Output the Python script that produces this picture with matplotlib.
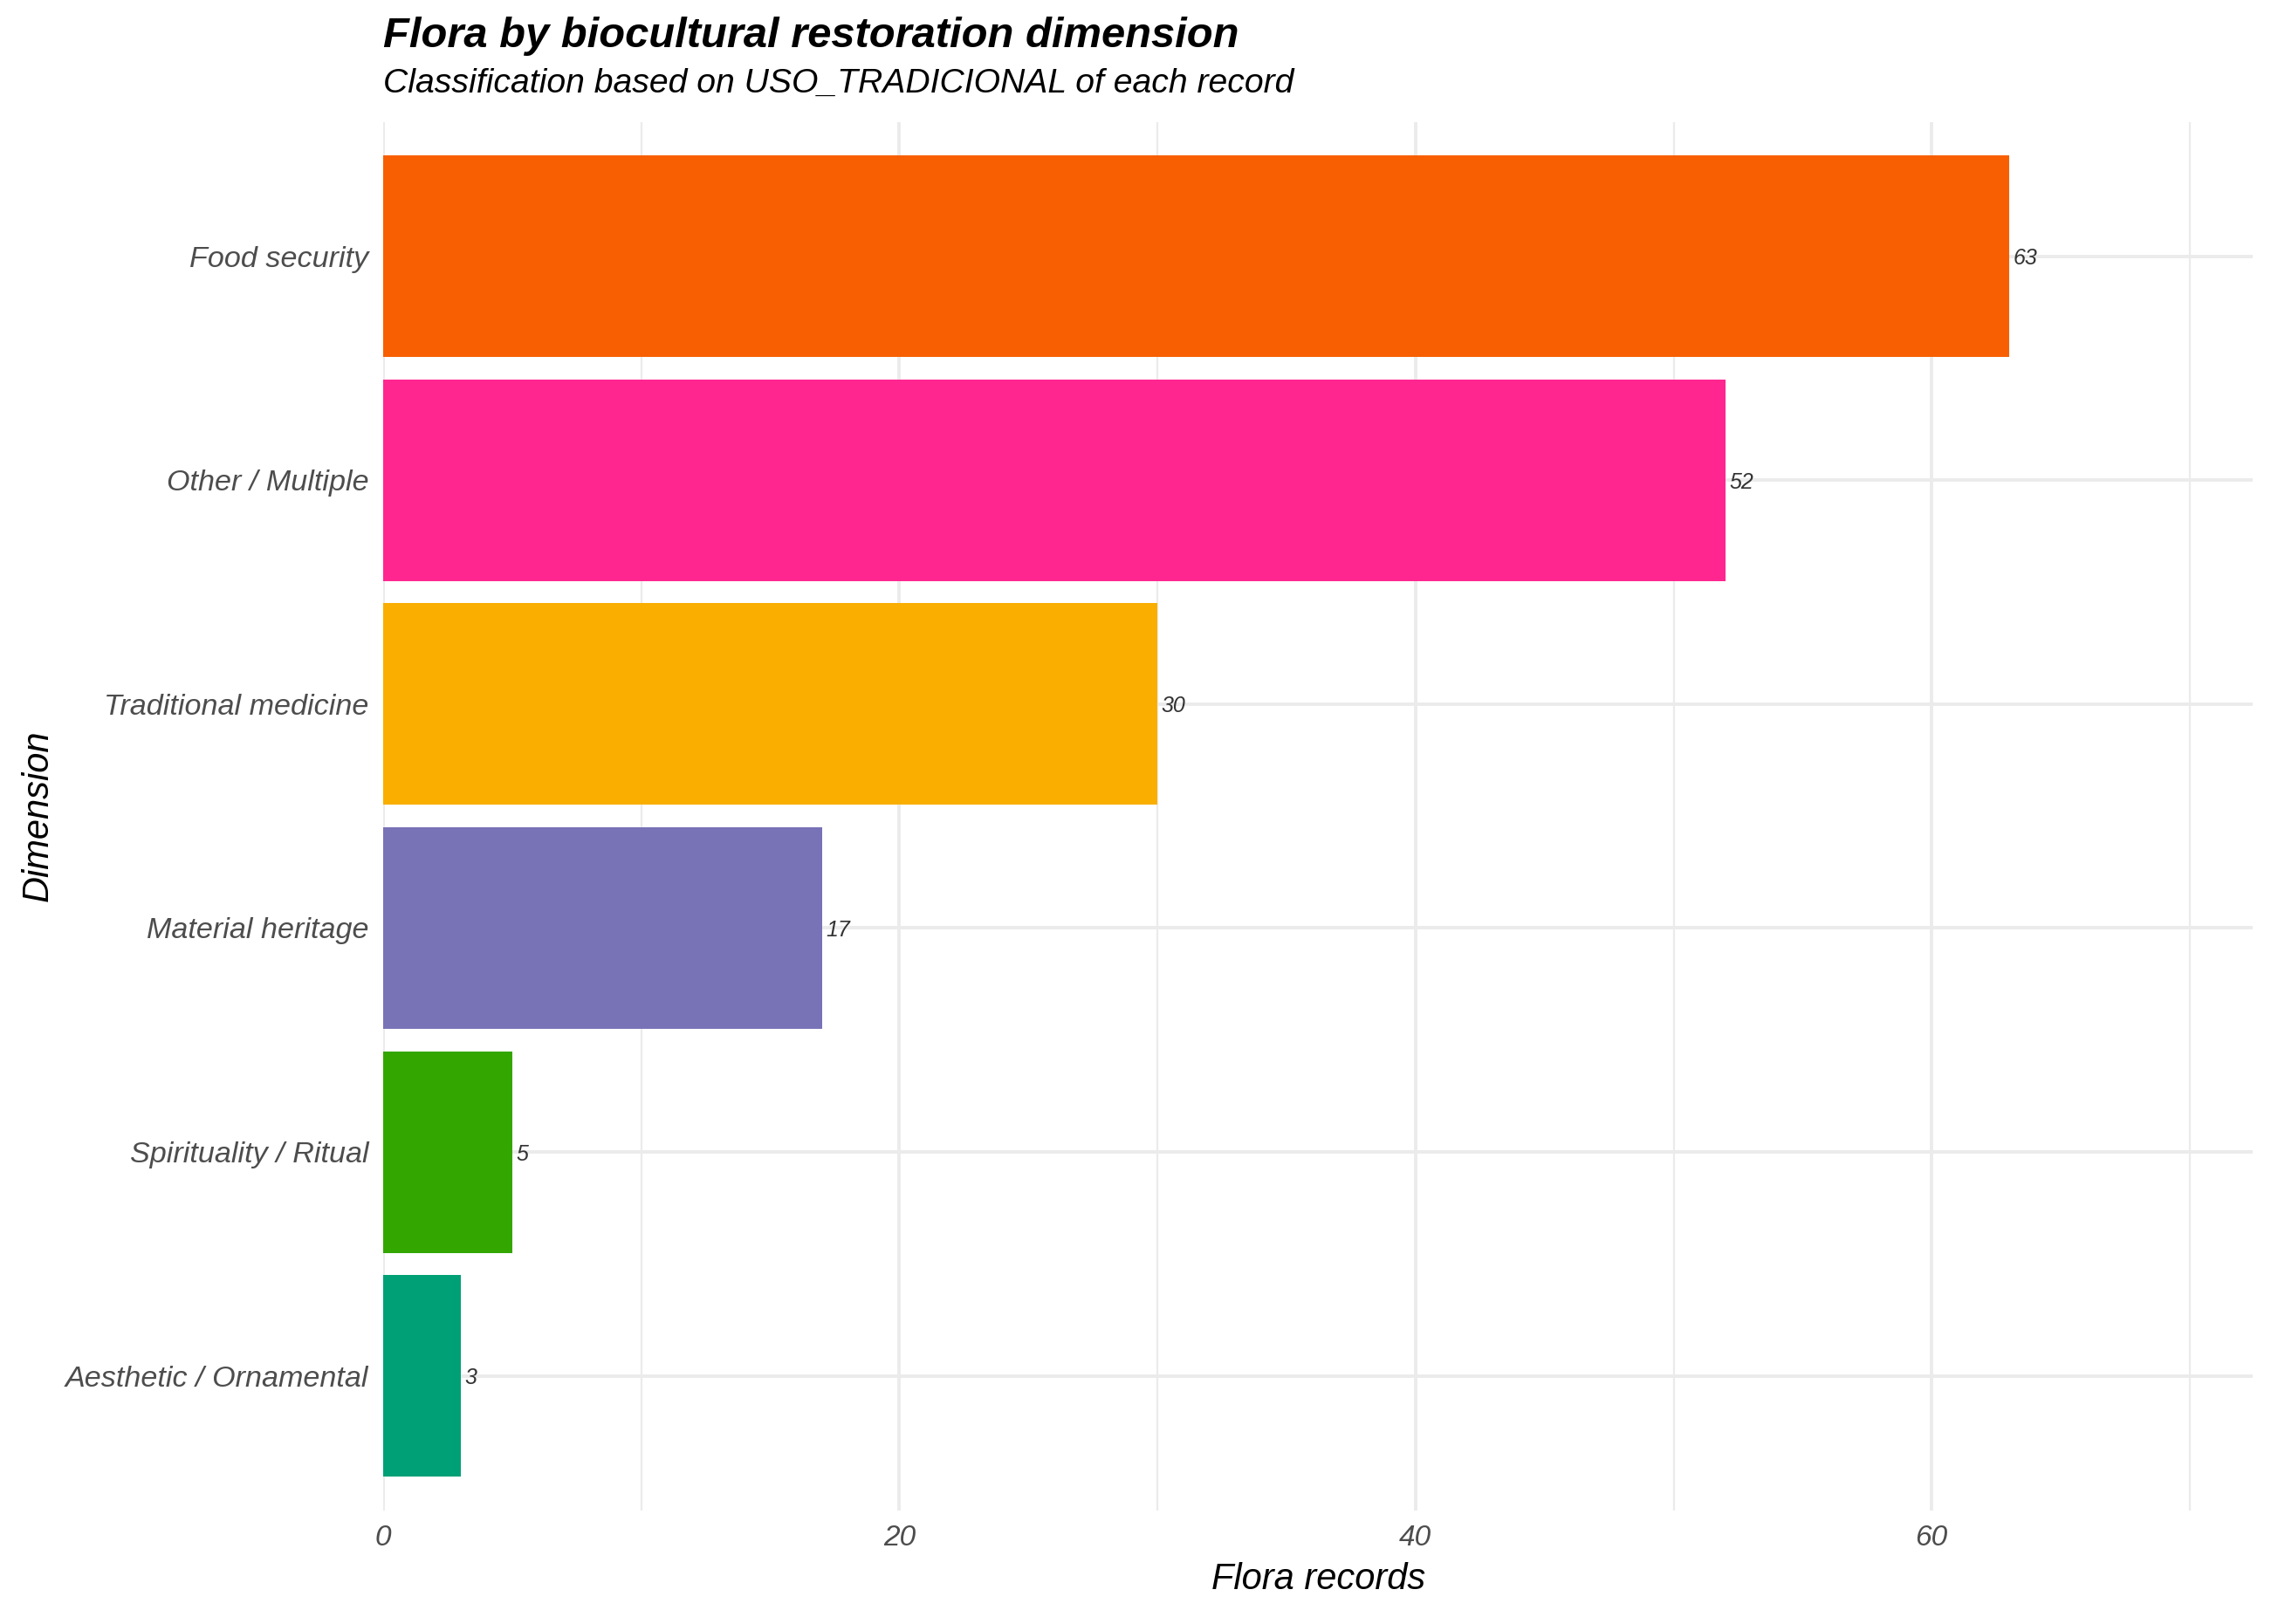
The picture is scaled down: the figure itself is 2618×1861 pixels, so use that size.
#!/usr/bin/env python3
"""Horizontal bar chart of flora records by biocultural restoration dimension."""

import matplotlib
matplotlib.use("Agg")
import matplotlib.pyplot as plt
from matplotlib.ticker import MultipleLocator

# Data (top to bottom as drawn)
dimensions = [
    "Food security",
    "Other / Multiple",
    "Traditional medicine",
    "Material heritage",
    "Spirituality / Ritual",
    "Aesthetic / Ornamental",
]
records = [63, 52, 30, 17, 5, 3]
bar_colors = ["#F75F02", "#FF2690", "#F9AE00", "#7872B7", "#33A700", "#00A076"]
x_ticks = [0, 20, 40, 60]

plt.rcParams["font.family"] = ["Liberation Sans", "DejaVu Sans"]

fig = plt.figure(figsize=(13.09, 9.305), dpi=200)
ax = fig.add_axes([0.1677, 0.070, 0.8183, 0.855])

# Bars, drawn bottom-up so first category sits on top
n = len(dimensions)
ypos = list(range(n))[::-1]
ax.barh(ypos, records, height=0.9, color=bar_colors, zorder=2)

# Value labels just past the bar end
for y, v in zip(ypos, records):
    ax.text(v + 0.15, y - 0.01, str(v), ha="left", va="center", fontsize=9,
            style="italic", color="#333333", zorder=3)

# Axes limits (ggplot-like expansion)
ax.set_xlim(0, max(records) * 1.15)
ax.set_ylim(-0.6, n - 1 + 0.6)

ax.set_yticks(ypos)
ax.set_yticklabels(dimensions, fontsize=12.3, style="italic", color="#4D4D4D")
ax.set_xticks(x_ticks)
ax.set_xticklabels([str(t) for t in x_ticks], fontsize=12, style="italic",
                   color="#4D4D4D")
ax.xaxis.set_minor_locator(MultipleLocator(10))

ax.tick_params(axis="both", length=0, pad=6)
ax.tick_params(axis="x", which="minor", length=0)

# Grid
ax.grid(True, axis="x", which="major", color="#EBEBEB", linewidth=1.4, zorder=0)
ax.grid(True, axis="x", which="minor", color="#EBEBEB", linewidth=0.8, zorder=0)
ax.grid(True, axis="y", which="major", color="#EBEBEB", linewidth=1.4, zorder=0)
ax.set_axisbelow(True)
for spine in ax.spines.values():
    spine.set_visible(False)

ax.set_xlabel("Flora records", fontsize=15, style="italic", labelpad=4)
ax.set_ylabel("Dimension", fontsize=15, style="italic", labelpad=4)

# Title and subtitle aligned with panel left edge
fig.text(0.1677, 0.990, "Flora by biocultural restoration dimension",
         fontsize=17.6, fontweight="bold", style="italic", ha="left", va="top")
fig.text(0.1677, 0.958, "Classification based on USO_TRADICIONAL of each record",
         fontsize=14.1, style="italic", ha="left", va="top")

fig.savefig("out.png", dpi=200, facecolor="white")
